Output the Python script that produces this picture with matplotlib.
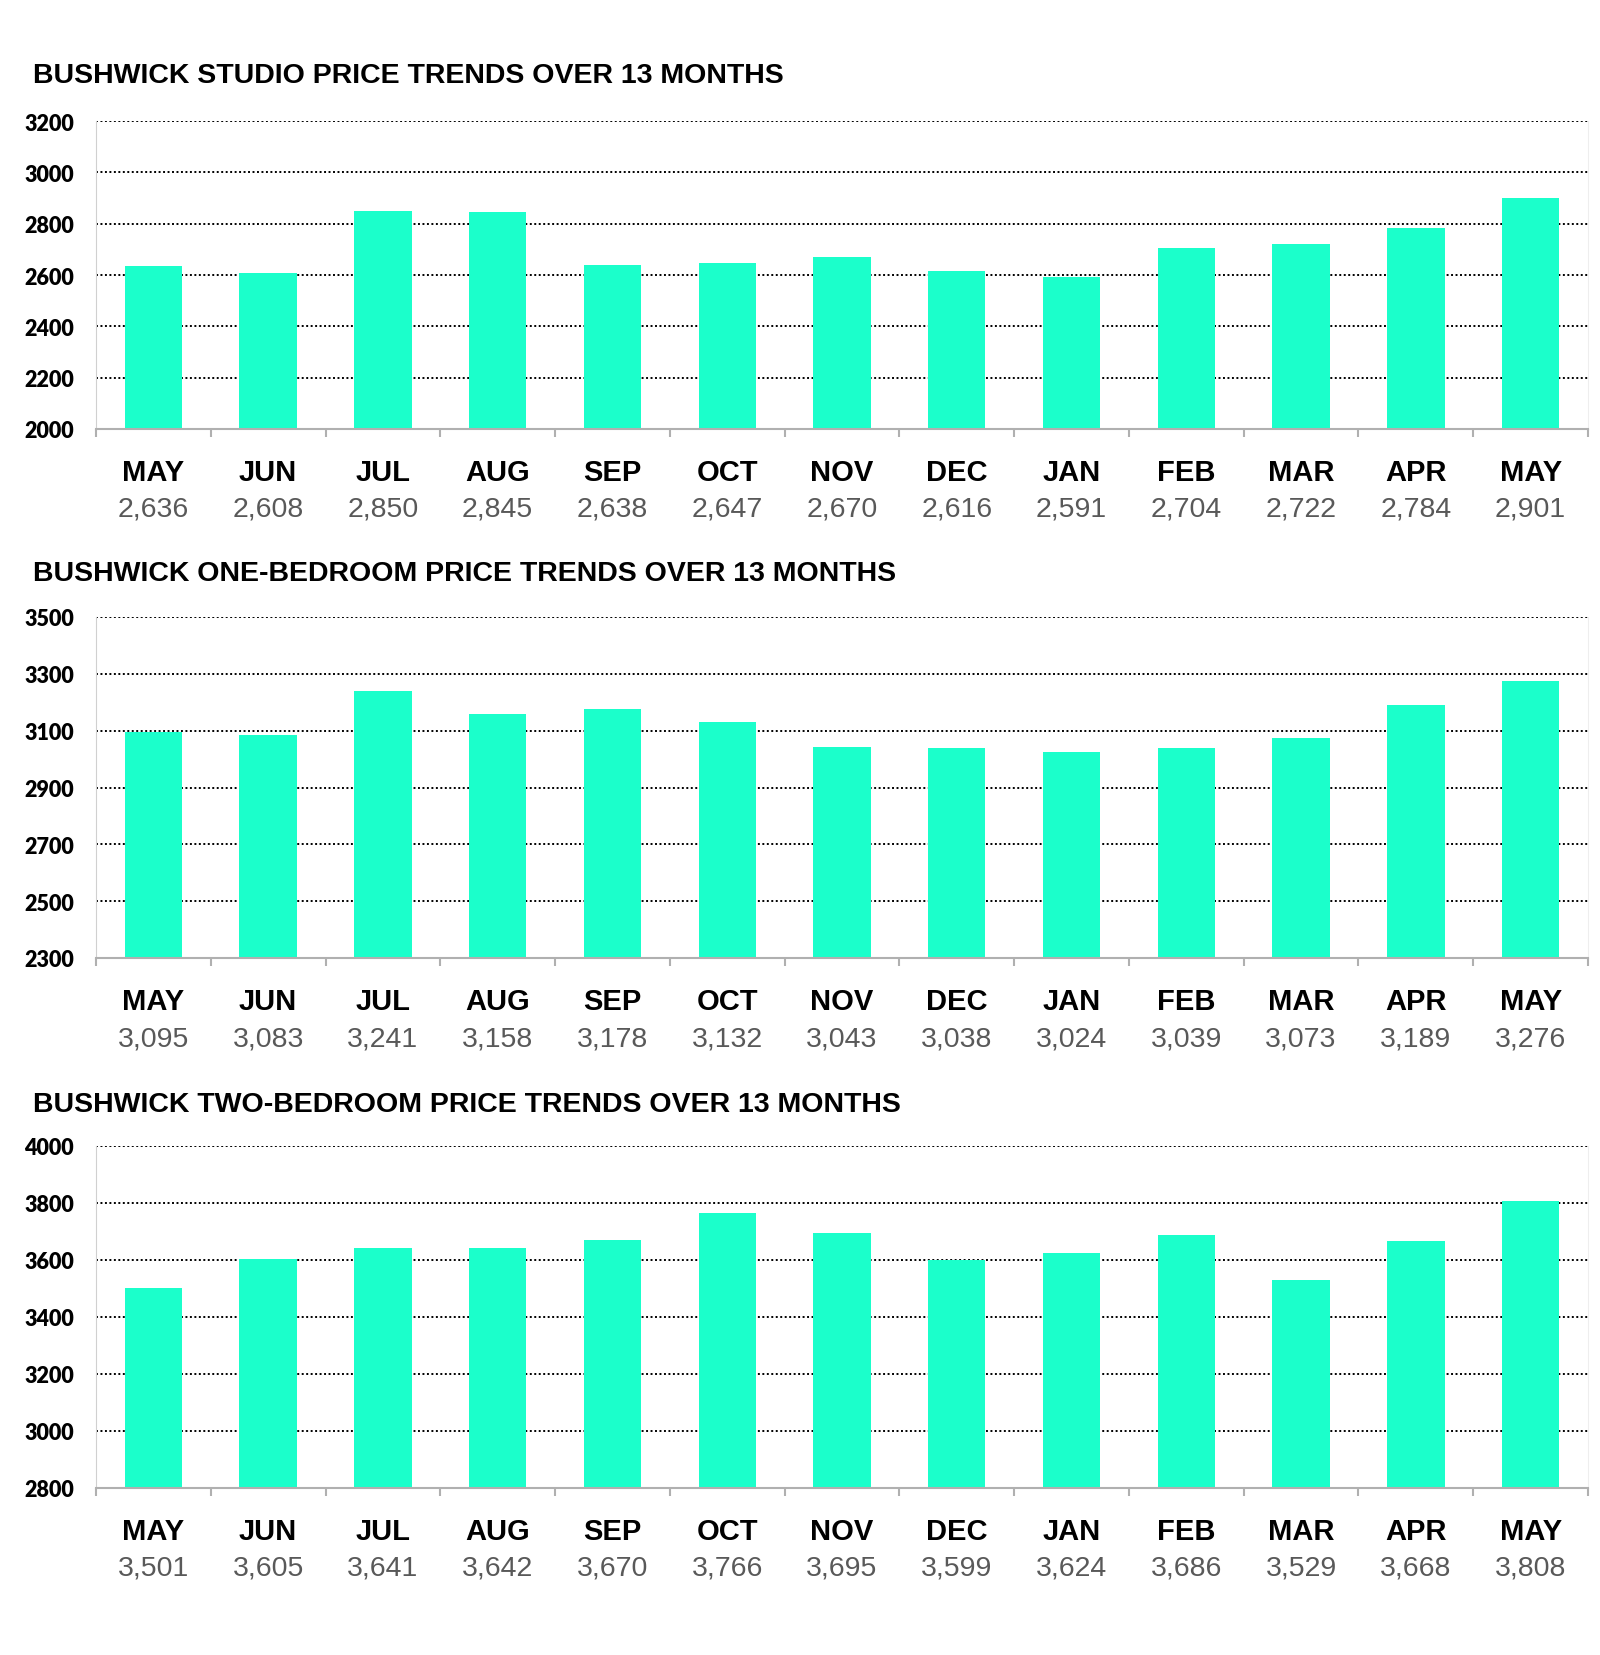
import matplotlib.pyplot as plt
import matplotlib.ticker as mticker

MONTHS = ["MAY", "JUN", "JUL", "AUG", "SEP", "OCT", "NOV", "DEC", "JAN", "FEB", "MAR", "APR", "MAY"]

STUDIO = [2636, 2608, 2850, 2845, 2638, 2647, 2670, 2616, 2591, 2704, 2722, 2784, 2901]
ONE_BED = [3095, 3083, 3241, 3158, 3178, 3132, 3043, 3038, 3024, 3039, 3073, 3189, 3276]
TWO_BED = [3501, 3605, 3641, 3642, 3670, 3766, 3695, 3599, 3624, 3686, 3529, 3668, 3808]

TITLES = [
    "BUSHWICK STUDIO PRICE TRENDS OVER 13 MONTHS",
    "BUSHWICK ONE-BEDROOM PRICE TRENDS OVER 13 MONTHS",
    "BUSHWICK TWO-BEDROOM PRICE TRENDS OVER 13 MONTHS",
]
Y_RANGES = [(2000, 3200, 200), (2300, 3500, 200), (2800, 4000, 200)]

BAR_COLOR = "#1bffcb"
W, H = 1600, 1656

# panel geometry in pixels: (axes top, axes bottom, title y)
PANELS = [(122, 430, 76), (618, 959, 574), (1147, 1489, 1105)]
LEFT, RIGHT = 96, 1588

fig = plt.figure(figsize=(W / 100, H / 100), dpi=100)
fig.patch.set_facecolor("white")

for values, title, (ylo, yhi, step), (top, bot, ty) in zip(
    [STUDIO, ONE_BED, TWO_BED], TITLES, Y_RANGES, PANELS
):
    ax = fig.add_axes([LEFT / W, 1 - bot / H, (RIGHT - LEFT) / W, (bot - top) / H])
    x = list(range(len(values)))
    ax.bar(x, [v - ylo for v in values], bottom=ylo, width=0.5, color=BAR_COLOR, zorder=2)

    ax.set_xlim(-0.5, len(values) - 0.5)
    ax.set_ylim(ylo, yhi)
    ax.set_yticks(range(ylo, yhi + 1, step))
    ax.yaxis.grid(True, color="black", linestyle=(0, (1, 1.3)), linewidth=1.4, zorder=1)
    ax.set_axisbelow(True)

    ax.spines["top"].set_visible(False)
    ax.spines["left"].set_color("#d0d0d0")
    ax.spines["right"].set_color("#eeeeee")
    ax.spines["bottom"].set_color("#b0b0b0")
    ax.spines["bottom"].set_linewidth(1.5)

    ax.tick_params(axis="y", length=0, pad=16, labelsize=15.5)
    for lbl in ax.get_yticklabels():
        lbl.set_fontfamily("Lato")
        lbl.set_fontweight("heavy")

    ax.set_xticks(x)
    ax.set_xticklabels([])
    ax.tick_params(axis="x", which="major", length=0)
    ax.xaxis.set_minor_locator(mticker.FixedLocator([i - 0.5 for i in range(len(values) + 1)]))
    ax.tick_params(axis="x", which="minor", length=6, width=1.5, color="#b0b0b0", direction="out")

    for xi, m, v in zip(x, MONTHS, values):
        ax.annotate(m, (xi, 0), xycoords=("data", "axes fraction"), xytext=(0, -43),
                    textcoords="offset pixels", ha="center", va="center",
                    fontsize=21, fontweight="bold", family="Liberation Sans", color="black")
        ax.annotate(f"{v:,}", (xi, 0), xycoords=("data", "axes fraction"), xytext=(0, -80),
                    textcoords="offset pixels", ha="center", va="center",
                    fontsize=20.5, family="Liberation Sans", color="#595959")

    fig.text(33 / W, 1 - ty / H, title, ha="left", va="center",
             fontsize=20.5, fontweight="bold", family="Liberation Sans", color="black")

fig.savefig("out.png", dpi=100)
